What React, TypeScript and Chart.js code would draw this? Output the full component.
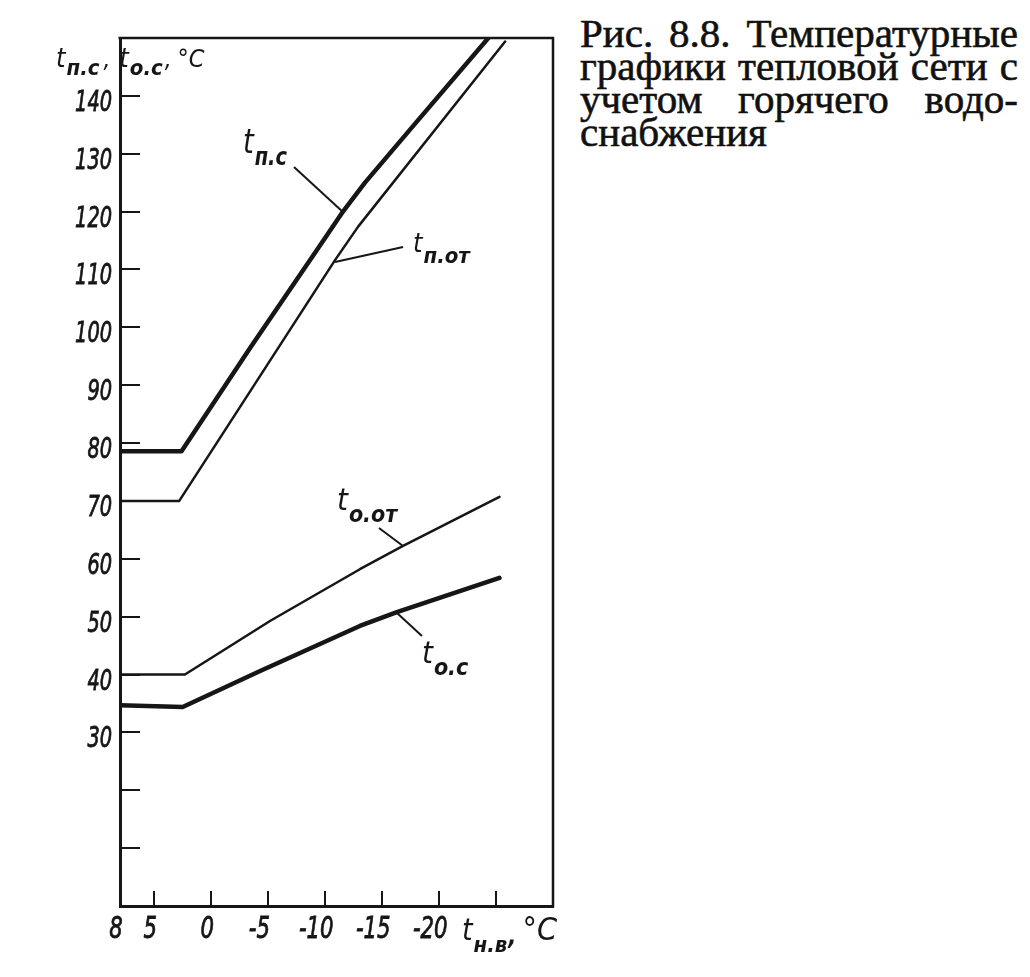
import React, { useEffect, useRef } from 'react';
import { Chart, registerables } from 'chart.js';

Chart.register(...registerables);

const INK = '#161616';
const NARROW = "'DejaVu Sans Condensed', 'DejaVu Sans', sans-serif";

// Axis ticks
const xTicks = [8, 5, 0, -5, -10, -15, -20, -25, -30];
const xTickLabels = ['8', '5', '0', '-5', '-10', '-15', '-20', '', ''];
const yTicks = [0, 10, 20, 30, 40, 50, 60, 70, 80, 90, 100, 110, 120, 130, 140, 150];
const yTickLabels = ['', '', '', '30', '40', '50', '60', '70', '80', '90', '100', '110', '120', '130', '140', ''];

// t_п.с — supply water temperature (thick)
const tpcX = [8, 2.6, -3.4, -9.4, -11.6, -13.5, -17.9, -24.5];
const tpcY = [78.6, 78.6, 96.4, 113.7, 120.1, 125.0, 135.2, 150.4];
// t_п.от — supply, heating only (thin)
const tpoX = [8, 2.8, -10.9, -12.9, -25.8];
const tpoY = [70, 70, 111.7, 117.4, 149.4];
// t_о.от — return, heating only (thin)
const tooX = [8, 2.3, -5.2, -13.05, -16.8, -25.3];
const tooY = [40, 40, 49.3, 58.2, 62.2, 70.7];
// t_о.с — return water temperature (thick)
const tocX = [8, 2.5, -4.3, -13.05, -16.3, -25.3];
const tocY = [34.7, 34.4, 40.6, 48.4, 50.8, 56.7];

// Curve labels (data coordinates): position of "t" and leader line
const curveLabels = [
  { sub: 'п.с', x: -2.79, y: 130.1, t: 34, s: 24, dy: 12, k: 0.9, lx1: -7.27, ly1: 127.7, lx2: -11.66, ly2: 119.75 },
  { sub: 'п.от', x: -17.71, y: 113.0, t: 27, s: 22, dy: 11, k: 1, lx1: -16.84, ly1: 113.9, lx2: -10.87, ly2: 111.3 },
  { sub: 'о.от', x: -11.04, y: 68.43, t: 31, s: 23, dy: 12, k: 1, lx1: -14.73, ly1: 65.32, lx2: -16.84, ly2: 62.21 },
  { sub: 'о.с', x: -18.5, y: 42.0, t: 31, s: 23, dy: 12, k: 1, lx1: -16.31, ly1: 50.63, lx2: -18.5, ly2: 46.66 },
];

const f = (size: number, bold = false) => `italic ${bold ? 'bold ' : ''}${size}px ${NARROW}`;

type Part = { text: string; font: string; dy?: number; gap?: number };

function drawRich(ctx: CanvasRenderingContext2D, x: number, y: number, parts: Part[], k = 1) {
  ctx.save();
  ctx.translate(x, y);
  ctx.scale(k, 1);
  let cx = 0;
  for (const p of parts) {
    ctx.font = p.font;
    ctx.fillText(p.text, cx, p.dy || 0);
    cx += ctx.measureText(p.text).width + (p.gap || 0);
  }
  ctx.restore();
}

function narrowText(ctx: CanvasRenderingContext2D, text: string, x: number, y: number, k: number) {
  ctx.save();
  ctx.translate(x, y);
  ctx.scale(k, 1);
  ctx.fillText(text, 0, 0);
  ctx.lineWidth = 0.8;
  ctx.strokeText(text, 0, 0);
  ctx.restore();
}

const toPts = (xs: number[], ys: number[]) => xs.map((x, i) => ({ x, y: ys[i] }));

const decorPlugin = {
  id: 'decor',
  afterDraw(chart: any) {
    const { ctx, chartArea, scales } = chart;
    const sx = scales.x;
    const sy = scales.y;
    ctx.save();
    // top and right frame
    ctx.strokeStyle = INK;
    ctx.lineWidth = 2.5;
    ctx.beginPath();
    ctx.moveTo(chartArea.left - 1.5, chartArea.top);
    ctx.lineTo(chartArea.right, chartArea.top);
    ctx.lineTo(chartArea.right, chartArea.bottom + 1.5);
    ctx.stroke();

    ctx.fillStyle = INK;
    ctx.textBaseline = 'alphabetic';
    ctx.textAlign = 'left';

    // y tick labels (from the scale's ticks)
    ctx.font = f(29);
    const ky = 12.3 / ctx.measureText('0').width;
    for (const t of sy.ticks) {
      const i = yTicks.indexOf(t.value);
      const lab = i >= 0 ? yTickLabels[i] : '';
      if (!lab) continue;
      ctx.font = f(29);
      const w = ctx.measureText(lab).width * ky;
      narrowText(ctx, lab, chartArea.left - 8 - w, sy.getPixelForValue(t.value) + 15, ky);
    }
    // x tick labels
    ctx.font = f(31);
    const kx = 13.5 / ctx.measureText('0').width;
    for (const t of sx.ticks) {
      const i = xTicks.indexOf(t.value);
      const lab = i >= 0 ? xTickLabels[i] : '';
      if (!lab) continue;
      ctx.font = f(31);
      const digits = lab.replace('-', '');
      const minus = lab.length - digits.length ? '-' : '';
      const dw = ctx.measureText(digits).width * kx;
      const mw = minus ? ctx.measureText('-').width * kx + 1 : 0;
      const cx = sx.getPixelForValue(t.value) - 4;
      narrowText(ctx, lab, cx - dw / 2 - mw, chartArea.bottom + 32, kx);
    }

    // curve labels + leaders
    ctx.lineWidth = 2;
    for (const l of curveLabels) {
      ctx.beginPath();
      ctx.moveTo(sx.getPixelForValue(l.lx1), sy.getPixelForValue(l.ly1));
      ctx.lineTo(sx.getPixelForValue(l.lx2), sy.getPixelForValue(l.ly2));
      ctx.stroke();
      drawRich(ctx, sx.getPixelForValue(l.x), sy.getPixelForValue(l.y), [
        { text: 't', font: f(l.t), gap: 1 },
        { text: l.sub, font: f(l.s, true), dy: l.dy },
      ], l.k);
    }

    // y axis title
    drawRich(ctx, chartArea.left - 64, chartArea.top + 29, [
      { text: 't', font: f(27), gap: 1 },
      { text: 'п.с', font: f(22, true), dy: 8, gap: 4 },
      { text: ',', font: f(24), gap: 9 },
      { text: 't', font: f(27), gap: 1 },
      { text: 'о.с', font: f(22, true), dy: 8, gap: 2 },
      { text: ',', font: f(24), gap: 6 },
      { text: '°C', font: f(25) },
    ]);

    // x axis title
    drawRich(ctx, chartArea.right - 91, chartArea.bottom + 34, [
      { text: 't', font: f(30), gap: 1 },
      { text: 'н.в', font: f(22, true), dy: 12, gap: 1 },
      { text: ',', font: f(24, true), dy: 4, gap: 6 },
      { text: '°C', font: f(32) },
    ]);
    ctx.restore();
  },
};

export default function App() {
  const ref = useRef<HTMLCanvasElement | null>(null);

  useEffect(() => {
    if (!ref.current) return;
    const line = (xs: number[], ys: number[], w: number) => ({
      data: toPts(xs, ys),
      borderColor: INK,
      borderWidth: w,
      pointRadius: 0,
      fill: false,
      tension: 0,
      borderCapStyle: 'round' as const,
      borderJoinStyle: 'round' as const,
    });
    const tickColor = (c: any) =>
      c.tick && (c.tick.value === 8 || c.tick.value === -30 || (c.tick.value === 0 && c.scale.axis === 'y') || c.tick.value === 150)
        ? 'rgba(0,0,0,0)'
        : INK;
    const chart = new Chart(ref.current, {
      type: 'line',
      data: {
        datasets: [
          line(tpcX, tpcY, 4.5),
          line(tpoX, tpoY, 2.5),
          line(tooX, tooY, 2.5),
          line(tocX, tocY, 4.5),
        ],
      },
      options: {
        responsive: false,
        animation: false,
        events: [],
        layout: { padding: { top: 38, right: 7, left: 0, bottom: 0 } },
        plugins: { legend: { display: false }, tooltip: { enabled: false } },
        scales: {
          x: {
            type: 'linear',
            min: -30,
            max: 8,
            reverse: true,
            position: 'bottom',
            afterBuildTicks: (s: any) => {
              s.ticks = xTicks.map((v) => ({ value: v }));
            },
            afterFit: (s: any) => {
              s.height = 71;
            },
            border: { display: true, width: 3, color: INK },
            grid: {
              drawOnChartArea: false,
              drawTicks: true,
              tickLength: -15,
              lineWidth: 2,
              color: tickColor,
            },
            ticks: { display: false, autoSkip: false, maxRotation: 0 },
          },
          y: {
            type: 'linear',
            min: 0,
            max: 150,
            position: 'left',
            afterBuildTicks: (s: any) => {
              s.ticks = yTicks.map((v) => ({ value: v }));
            },
            afterFit: (s: any) => {
              s.width = 120;
            },
            border: { display: true, width: 3, color: INK },
            grid: {
              drawOnChartArea: false,
              drawTicks: true,
              tickLength: -20,
              lineWidth: 2,
              color: tickColor,
            },
            ticks: { display: false, autoSkip: false },
          },
        },
      },
      plugins: [decorPlugin],
    });
    return () => chart.destroy();
  }, []);

  const capLine: React.CSSProperties = {
    textAlign: 'justify',
    textAlignLast: 'justify',
    height: 33,
  };

  return (
    <div style={{ position: 'absolute', left: 0, top: 0, width: 1030, height: 977, background: '#fff' }}>
      <canvas ref={ref} width={560} height={977} style={{ position: 'absolute', left: 0, top: 0, width: 560, height: 977 }} />
      <div
        style={{
          position: 'absolute',
          left: 580,
          top: 17,
          width: 438,
          fontFamily: "'Liberation Serif', 'DejaVu Serif', serif",
          fontSize: 41,
          lineHeight: '33px',
          color: '#111',
          WebkitTextStroke: '0.6px #111',
          whiteSpace: 'nowrap',
        }}
      >
        <div style={capLine}>Рис. 8.8. Температурные</div>
        <div style={capLine}>графики тепловой сети с</div>
        <div style={capLine}>учетом горячего водо-</div>
        <div style={{ height: 33 }}>снабжения</div>
      </div>
    </div>
  );
}
